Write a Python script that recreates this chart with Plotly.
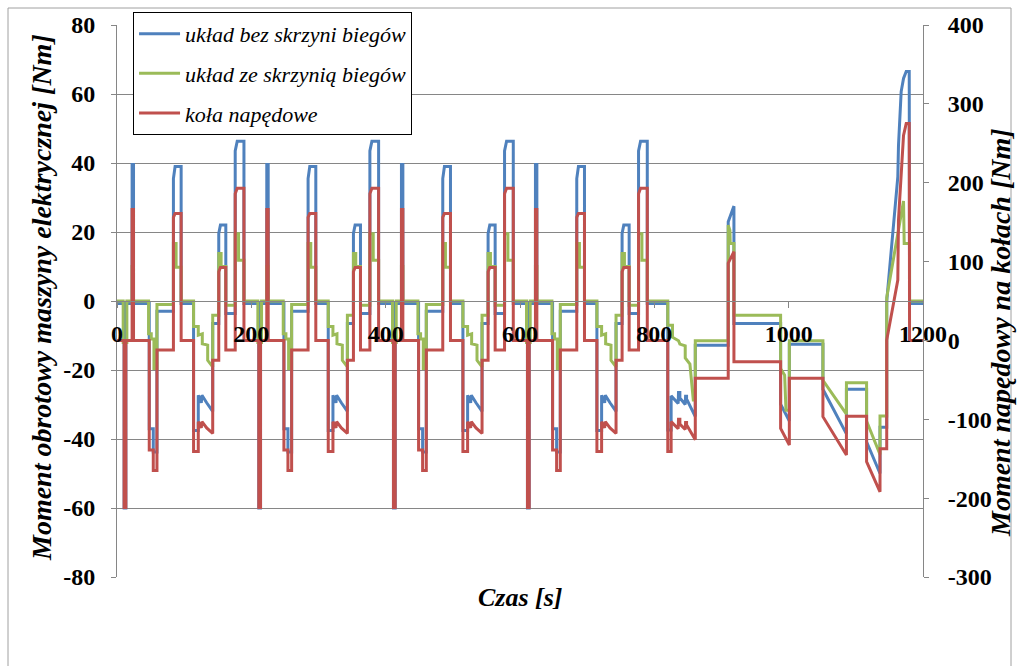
import plotly.graph_objects as go

# ---------------- data ----------------
# One urban (ECE) cycle, time relative to cycle start, chart units
ece_t = [0, 10.6, 10.6, 13.2, 13.2, 22.5, 22.5, 24.6, 24.6, 48, 48, 54, 54, 59.5, 59.5,
         84, 84, 86.5, 95.5, 95.5, 114, 114, 121, 121, 125.5, 126.5, 133.5, 142.5, 142.5,
         151.5, 151.5, 154, 162, 162, 176, 176, 179, 189, 189, 199.5]
ece_blue = [-0.7, -0.7, -60, -60, -0.7, -0.7, 39.6, 39.6, -0.7, -0.7, -37, -37, -43.8, -43.8,
            -3, -3, 35.5, 39, 39, -0.7, -0.7, -37.5, -37.5, -27.3, -29.5, -27.3, -29.5, -32,
            -6.5, -6.5, 19.6, 22, 22, -3.6, -3.6, 43.5, 46.3, 46.3, -0.7, -0.7]
ece_red = [0, 0, -212, -212, 0, 0, 166, 166, 0, 0, -139, -139, -165, -165, -12, -12, 156, 161,
           161, 0, 0, -141, -141, -103, -111, -103, -111, -118, -25, -25, 87, 92.5, 92.5, -12,
           -12, 186, 193, 193, 0, 0]
ece_t_green = [0, 9.2, 9.2, 14.7, 14.7, 22.5, 22.5, 24.6, 24.6, 47, 47, 51, 51, 55, 55, 59.5,
               59.5, 84, 84, 88, 88, 95.5, 95.5, 114, 114, 121, 121, 127, 127, 135, 135, 142.5,
               142.5, 151.5, 151.5, 155, 155, 162, 162, 176, 176, 181, 181, 189, 189, 199.5]
ece_green = [0, 0, -12, -12, 0, 0, 10, 10, 0, 0, -9.5, -9.5, -11, -11, -19.6, -19.6, -1, -1,
             16.7, 16.7, 9.8, 9.8, 0, 0, -7.4, -7.4, -9.9, -9.5, -12.4, -12.8, -17.2, -19.1,
             -4.1, -4.1, 13.8, 13.8, 10, 10, -1.2, -1.2, 19.5, 19.5, 11.8, 11.8, 0, 0]
# start of each of the four urban cycles on the time axis
cycle_starts = [0, 200.5, 401, 600.5]

# Extra-urban part
eudc_t = [800, 820, 820, 825, 825, 835.5, 836, 838, 838, 846, 846.5, 848, 848, 861, 861, 910,
          910, 918.5, 918.5, 988, 988, 1001, 1001, 1051, 1051, 1086, 1086, 1116, 1116, 1136,
          1136, 1146, 1146, 1162.5, 1163.5, 1167.5, 1171, 1175, 1179.5, 1180, 1200]
eudc_blue = [-0.7, -0.7, -37.4, -37.4, -27.5, -29.7, -26.5, -26.5, -28.1, -30, -27.6, -27.6,
             -28.4, -33.5, -12.8, -12.8, 23, 27.5, -6.5, -6.5, -29.9, -34.8, -12.5, -12.5,
             -25.6, -38.5, -25.6, -25.6, -40.8, -50, -36.6, -36.6, 0, 36, 45, 60.7, 64.5,
             66.5, 66.5, -0.7, -0.7]
eudc_red = [0, 0, -141, -141, -103, -112, -100, -100, -106, -113, -104, -104, -107, -126, -48,
            -48, 98, 112.5, -27, -27, -111.5, -132.6, -48, -48, -96.7, -145.3, -96, -96,
            -153.8, -192, -137.5, -137.5, 0.5, 76.6, 152.7, 215, 260, 275, 275, 0, 0]
eudc_t_green = [800, 820, 820, 827, 827, 836, 838, 846, 846, 853, 858, 861, 861, 910, 910,
                912.5, 913, 918.5, 918.5, 988, 988, 994, 996, 1001, 1001, 1051, 1051, 1086,
                1086, 1116, 1116, 1136, 1136, 1146, 1146, 1171, 1172, 1180, 1180, 1200]
eudc_green = [0, 0, -7, -7, -10.5, -11.5, -12.5, -13, -16.5, -18.3, -28.7, -28.7, -11.5,
              -11.5, 22, 20.5, 16.7, 16.7, -4.1, -4.1, -19.6, -21.5, -31.7, -31.7, -11.5,
              -11.5, -23, -32.8, -23.7, -23.7, -34.8, -44.5, -33.3, -33.3, 1, 29, 16.7, 16.7,
              0, 0]

series_names = ["układ bez skrzyni biegów", "układ ze skrzynią biegów", "koła napędowe"]
x_tick_vals = [0, 200, 400, 600, 800, 1000, 1200]
x_tick_text = ["0", "200", "400", "600", "800", "1000", "1200"]
left_ticks = [-80, -60, -40, -20, 0, 20, 40, 60, 80]
left_tick_text = ["-80", "-60", "-40", "-20", "0", "20", "40", "60", "80"]
right_ticks = [-300, -200, -100, 0, 100, 200, 300, 400]
right_tick_text = ["-300", "-200", "-100", "0", "100", "200", "300", "400"]


def build(t_cycle, v_cycle, t_tail, v_tail):
    xs, ys = [], []
    for s in cycle_starts:
        xs += [s + t for t in t_cycle]
        ys += list(v_cycle)
    xs += list(t_tail)
    ys += list(v_tail)
    return xs, ys


bx, by = build(ece_t, ece_blue, eudc_t, eudc_blue)
gx, gy = build(ece_t_green, ece_green, eudc_t_green, eudc_green)
rx, ry = build(ece_t, ece_red, eudc_t, eudc_red)

FONT = "Liberation Serif, Times New Roman, serif"
GRID = "#868686"

fig = go.Figure()
fig.add_trace(go.Scatter(x=bx, y=by, mode="lines", name="<i>" + series_names[0] + "</i>",
                         legendgroup="a", line=dict(color="#4F81BD", width=3), yaxis="y"))
fig.add_trace(go.Scatter(x=gx, y=gy, mode="lines", name="<i>" + series_names[1] + "</i>",
                         legendgroup="b", line=dict(color="#9BBB59", width=3), yaxis="y"))
fig.add_trace(go.Scatter(x=rx, y=ry, mode="lines", name="<i>" + series_names[2] + "</i>",
                         legendgroup="c", line=dict(color="#C0504D", width=3), yaxis="y2"))

tickfont = dict(family=FONT, size=24, color="black", weight="bold")


def tfont(size):
    return dict(family=FONT, size=size, color="black", weight="bold", style="italic")


fig.update_layout(
    width=1019, height=666,
    margin=dict(l=117, r=96, t=25, b=89),
    paper_bgcolor="white", plot_bgcolor="white",
    showlegend=True,
    legend=dict(x=0.0199, y=1.0236, xanchor="left", yanchor="top",
                bgcolor="white", bordercolor="black", borderwidth=1,
                font=dict(family=FONT, size=22, color="black"),
                tracegroupgap=8, itemwidth=41),
    xaxis=dict(range=[0, 1200], anchor="free", position=(577 - 300.5) / 552,
               tickvals=x_tick_vals, ticktext=x_tick_text, ticks="outside", ticklen=6,
               tickcolor=GRID, showline=True, linecolor=GRID, showgrid=False,
               zeroline=False, tickfont=tickfont, ticklabelstandoff=6),
    yaxis=dict(range=[-80, 80], tickvals=left_ticks, ticktext=left_tick_text,
               ticks="outside", ticklen=5,
               tickcolor=GRID, showline=True, linecolor=GRID, showgrid=True,
               gridcolor=GRID, gridwidth=1, zeroline=False, tickfont=tickfont,
               ticklabelstandoff=11),
    yaxis2=dict(range=[-300, 400], tickvals=right_ticks, ticktext=right_tick_text,
                overlaying="y", side="right",
                ticks="outside", ticklen=5, tickcolor=GRID, showline=True, linecolor=GRID,
                showgrid=False, zeroline=False, tickfont=tickfont, ticklabelstandoff=14),
    annotations=[
        dict(text="Moment obrotowy maszyny elektrycznej [Nm]", xref="paper", yref="paper",
             x=(41 - 117) / 806, y=(577 - 298) / 552, textangle=-90, showarrow=False,
             font=tfont(28), xanchor="center", yanchor="middle"),
        dict(text="Moment napędowy na kołach [Nm]", xref="paper", yref="paper",
             x=(1000 - 117) / 806, y=(577 - 333) / 552, textangle=-90, showarrow=False,
             font=tfont(28), xanchor="center", yanchor="middle"),
        dict(text="Czas [s]", xref="paper", yref="paper", x=0.5, y=(577 - 597) / 552,
             showarrow=False, font=tfont(26), xanchor="center", yanchor="middle"),
    ],
    shapes=[dict(type="rect", xref="paper", yref="paper",
                 x0=(8 - 117) / 806, x1=(1011 - 117) / 806,
                 y0=(577 - 720) / 552, y1=(577 - 8) / 552,
                 line=dict(color="#A0A0A0", width=1), fillcolor="rgba(0,0,0,0)",
                 layer="below")],
)

fig.write_html("out.html", include_plotlyjs=True, config={"displayModeBar": False},
               post_script="document.body.style.margin='0';document.body.style.overflow='hidden';")
